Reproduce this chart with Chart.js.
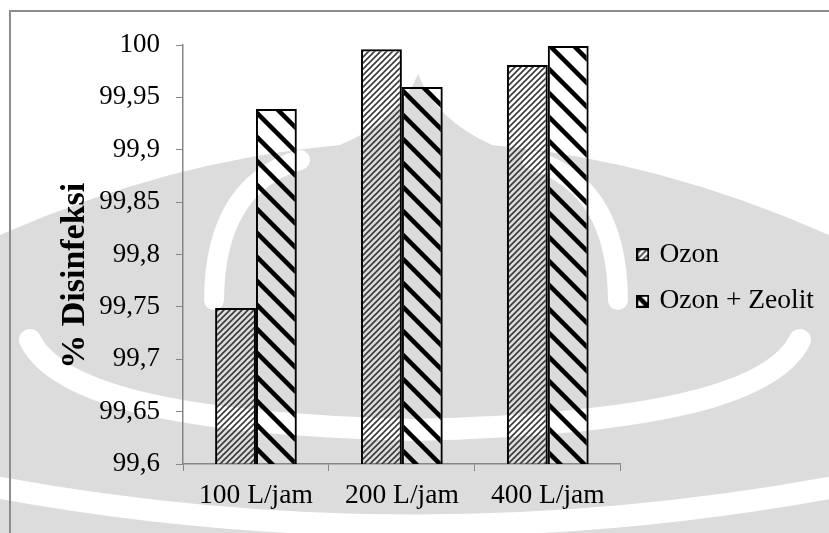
<!DOCTYPE html>
<html><head><meta charset="utf-8">
<script src="https://cdn.jsdelivr.net/npm/chart.js@4.4.1/dist/chart.umd.min.js"></script>
<style>html,body{margin:0;padding:0;background:#fff}#wrap{width:829px;height:533px;position:relative}</style>
</head><body><div id="wrap"><canvas id="c" width="829" height="533"></canvas></div>
<script>
// Disinfection efficiency per flow rate
const categories = ['100 L/jam', '200 L/jam', '400 L/jam'];
const ozon = [99.749, 99.996, 99.981];
const ozonZeolit = [99.939, 99.960, 99.999];
const seriesNames = ['Ozon', 'Ozon + Zeolit'];
const yMin = 99.6, yMax = 100, yStep = 0.05;

const serif = "'Liberation Serif', 'Times New Roman', serif";

// fine upward hatching
function fineHatch() {
  const s = 6, cv = document.createElement('canvas');
  cv.width = s; cv.height = s;
  const g = cv.getContext('2d');
  g.strokeStyle = '#3a3a3a'; g.lineWidth = 1.6;
  g.beginPath();
  g.moveTo(-1, s + 1); g.lineTo(s + 1, -1);
  g.moveTo(-1, 1); g.lineTo(1, -1);
  g.moveTo(s - 1, s + 1); g.lineTo(s + 1, s - 1);
  g.stroke();
  return g.createPattern(cv, 'repeat');
}
// wide downward stripes
function wideStripe() {
  const s = 24, cv = document.createElement('canvas');
  cv.width = s; cv.height = s;
  const g = cv.getContext('2d');
  g.strokeStyle = '#000'; g.lineWidth = 4.5;
  g.beginPath();
  g.moveTo(-2, -2); g.lineTo(s + 2, s + 2);
  g.moveTo(-2, s - 2); g.lineTo(2, s + 2);
  g.moveTo(s - 2, -2); g.lineTo(s + 2, 2);
  g.stroke();
  return g.createPattern(cv, 'repeat');
}
// small framed swatch for the legend
function swatch(fill) {
  const s = 13, cv = document.createElement('canvas');
  cv.width = s; cv.height = s;
  const g = cv.getContext('2d');
  g.fillStyle = '#fff'; g.fillRect(0, 0, s, s);
  g.fillStyle = fill; g.fillRect(0, 0, s, s);
  g.strokeStyle = '#000'; g.lineWidth = 2;
  g.strokeRect(1, 1, s - 2, s - 2);
  return cv;
}

const ozonFill = fineHatch();
const zeolitFill = wideStripe();
const icons = [swatch(ozonFill), swatch(zeolitFill)];

const fmt = v => Number(v.toFixed(2)).toString().replace('.', ',');

// page background with the faint emblem behind the plot
function drawEmblem(ctx, w, h) {
  ctx.save();
  ctx.fillStyle = '#dcdcdc';
  ctx.beginPath();
  ctx.moveTo(0, 235);
  ctx.quadraticCurveTo(170, 160, 340, 145);
  ctx.quadraticCurveTo(400, 120, 418, 74);
  ctx.quadraticCurveTo(436, 120, 492, 145);
  ctx.quadraticCurveTo(660, 160, w, 235);
  ctx.lineTo(w, h); ctx.lineTo(0, h); ctx.closePath();
  ctx.fill();
  ctx.strokeStyle = '#fff';
  ctx.lineCap = 'round';
  ctx.lineWidth = 20;
  ctx.beginPath();
  ctx.moveTo(214, 300); ctx.quadraticCurveTo(215, 185, 300, 160);
  ctx.moveTo(618, 300); ctx.quadraticCurveTo(617, 185, 532, 160);
  ctx.stroke();
  ctx.lineWidth = 22;
  ctx.beginPath();
  ctx.moveTo(30, 340); ctx.bezierCurveTo(60, 400, 200, 425, 415, 430);
  ctx.bezierCurveTo(630, 425, 770, 400, 800, 340);
  ctx.moveTo(-10, 486); ctx.quadraticCurveTo(415, 565, 840, 486);
  ctx.stroke();
  ctx.restore();
}

const frame = {
  id: 'frame',
  beforeDraw(chart) {
    const ctx = chart.ctx;
    ctx.save();
    ctx.fillStyle = '#fff';
    ctx.fillRect(0, 0, chart.width, chart.height);
    ctx.restore();
    drawEmblem(ctx, chart.width, chart.height);
  },
  afterLayout(chart) {
    // lift the legend block so it sits beside the middle of the bars
    const lg = chart.legend;
    if (lg) { lg.bottom -= 22; lg.height -= 22; }
  },
  afterDraw(chart) {
    const ctx = chart.ctx;
    ctx.save();
    ctx.strokeStyle = '#8c8c8c';
    ctx.lineWidth = 2;
    ctx.strokeRect(10, 11, chart.width + 20, chart.height + 20);
    ctx.restore();
  }
};

new Chart(document.getElementById('c'), {
  type: 'bar',
  data: {
    labels: categories,
    datasets: [
      { label: seriesNames[0], data: ozon, backgroundColor: ozonFill, borderColor: '#000', borderWidth: 2, borderSkipped: false },
      { label: seriesNames[1], data: ozonZeolit, backgroundColor: zeolitFill, borderColor: '#000', borderWidth: 2, borderSkipped: false }
    ]
  },
  options: {
    responsive: false,
    animation: false,
    devicePixelRatio: 1,
    layout: { padding: { top: 45, right: 5, bottom: 0, left: 0 } },
    datasets: { bar: { categoryPercentage: 0.56, barPercentage: 1.0 } },
    scales: {
      x: {
        grid: { display: true, drawOnChartArea: false, drawTicks: true, tickLength: 7, color: '#868686', offset: true },
        border: { display: true, color: '#868686', width: 1.5 },
        ticks: { color: '#000', font: { family: serif, size: 27.5 }, padding: 8 },
        afterFit(s) { s.height = 69; }
      },
      y: {
        min: yMin, max: yMax,
        grid: { display: true, drawOnChartArea: false, drawTicks: true, tickLength: 7, color: '#868686' },
        border: { display: true, color: '#868686', width: 1.5 },
        ticks: { stepSize: yStep, color: '#000', font: { family: serif, size: 27 }, padding: 16, callback: v => fmt(v) },
        title: { display: true, text: '% Disinfeksi\u00a0\u00a0\u00a0\u00a0\u00a0', color: '#000', font: { family: serif, size: 34, weight: 'bold' }, padding: { top: 55, bottom: 0 } },
        afterFit(s) { s.width = 183; }
      }
    },
    plugins: {
      legend: {
        position: 'right',
        labels: {
          color: '#000', font: { family: serif, size: 27.5 },
          usePointStyle: true, boxWidth: 6, boxHeight: 13, padding: 19,
          generateLabels(chart) {
            return Chart.defaults.plugins.legend.labels.generateLabels(chart).map((item, i) => {
              item.pointStyle = icons[i];
              return item;
            });
          }
        }
      },
      tooltip: { enabled: false }
    }
  },
  plugins: [frame]
});
</script>
</body></html>
